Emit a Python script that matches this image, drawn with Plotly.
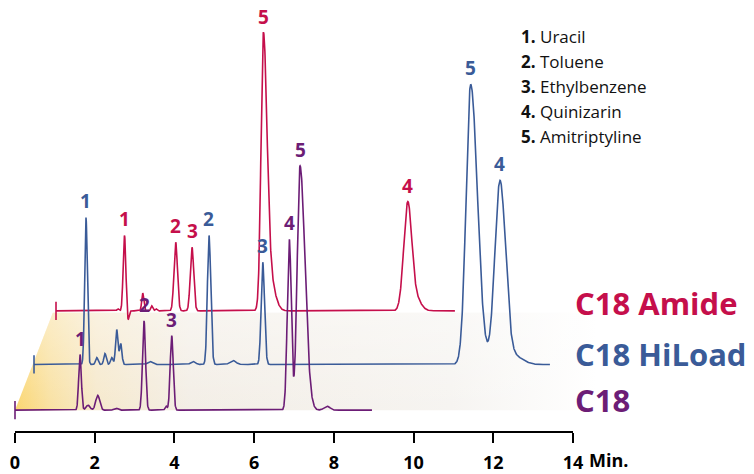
import numpy as np
import plotly.graph_objects as go

# peak tables
# rt = retention time in min from the start of that trace, height in plot units,
# sig_l / sig_r = left / right peak width (min), no = compound label
c18_rt = [1.631, 1.832, 2.075, 2.534, 3.237, 3.789, 3.932, 6.882, 7.151, 7.828]
c18_height = [56, 5, 15, 2, 90, 4, 75, 172, 246, 4]
c18_sig_l = [0.033, 0.05, 0.05, 0.05, 0.038, 0.025, 0.038, 0.05, 0.07, 0.075]
c18_sig_r = [0.033, 0.05, 0.05, 0.05, 0.038, 0.025, 0.038, 0.05, 0.125, 0.075]
c18_no = ['1', '', '', '', '2', '', '3', '4', '5', '']
c18_end = 8.96

hiload_rt = [1.304, 1.573, 1.781, 1.949, 2.075, 2.175, 2.910, 3.989, 4.390, 4.993, 5.738, 10.956, 11.691, 12.068]
hiload_height = [148, 7, 11, 7, 35, 21, 3, 3, 130, 4, 103, 282, 184, 8]
hiload_sig_l = [0.033, 0.03, 0.03, 0.03, 0.03, 0.03, 0.06, 0.06, 0.04, 0.075, 0.04, 0.115, 0.13, 0.2]
hiload_sig_r = [0.033, 0.03, 0.03, 0.03, 0.03, 0.03, 0.06, 0.06, 0.045, 0.075, 0.045, 0.17, 0.14, 0.2]
hiload_no = ['1', '', '', '', '', '', '', '', '2', '', '3', '5', '4', '']
hiload_end = 12.946

amide_rt = [1.555, 1.718, 1.806, 2.175, 2.401, 2.509, 3.003, 3.412, 5.201, 5.369, 8.824, 9.032]
amide_height = [2, 76, -10, 18, 5, 2, 69, 64, 268, 30, 107, 12]
amide_sig_l = [0.025, 0.033, 0.025, 0.025, 0.025, 0.025, 0.043, 0.043, 0.058, 0.125, 0.1, 0.125]
amide_sig_r = [0.025, 0.033, 0.025, 0.025, 0.025, 0.025, 0.043, 0.043, 0.09, 0.125, 0.1, 0.125]
amide_no = ['', '1', '', '', '', '', '2', '3', '5', '', '4', '']
amide_end = 10.011

compounds = ['Uracil', 'Toluene', 'Ethylbenzene', 'Quinizarin', 'Amitriptyline']
x_ticks = [0, 2, 4, 6, 8, 10, 12, 14]

RED = '#C50F4B'
BLUE = '#3A5B98'
PURPLE = '#6C1D76'
FONT = 'Open Sans'


def signal(t, rt, h, sl, sr):
    y = np.zeros_like(t)
    for t0, a, s1, s2 in zip(rt, h, sl, sr):
        s = np.where(t < t0, s1, s2)
        y += a * np.exp(-0.5 * ((t - t0) / s) ** 2)
    return y


fig = go.Figure()

# shaded floor under the stacked traces
fig.add_trace(go.Scatter(
    x=[0, 0.95, 14.6, 14.6, 0], y=[0, 98, 98, 0, 0],
    fill='toself', mode='none', hoverinfo='skip',
    fillgradient=dict(type='horizontal', colorscale=[
        [0, '#FBD670'], [0.06, '#F9E1A2'], [0.14, '#F6E9CC'], [0.3, '#F3EEE6'],
        [0.75, '#F6F4F1'], [1, '#FFFFFF']])
))
fig.add_trace(go.Scatter(
    x=[0, 0.95, 14.6, 14.6, 0], y=[0, 98, 98, 0, 0],
    fill='toself', mode='none', hoverinfo='skip',
    fillgradient=dict(type='vertical', colorscale=[
        [0, 'rgba(255,255,255,0)'], [1, 'rgba(255,255,255,0.4)']])
))

# (name, rt, height, sig_l, sig_r, labels, end, x offset, y offset, colour)
runs = [
    ('C18 Amide', amide_rt, amide_height, amide_sig_l, amide_sig_r, amide_no, amide_end, 1.029, 100, RED),
    ('C18 HiLoad', hiload_rt, hiload_height, hiload_sig_l, hiload_sig_r, hiload_no, hiload_end, 0.477, 46, BLUE),
    ('C18', c18_rt, c18_height, c18_sig_l, c18_sig_r, c18_no, c18_end, 0.0, 0, PURPLE),
]

annotations = []
for name, rt, h, sl, sr, nos, end, xoff, yoff, col in runs:
    t = np.arange(0, end, 0.004)
    y = signal(t, rt, h, sl, sr)
    fig.add_trace(go.Scatter(x=t + xoff, y=y + yoff, mode='lines',
                             line=dict(color=col, width=1.6), name=name, hoverinfo='skip'))
    # start mark of each run
    fig.add_trace(go.Scatter(x=[xoff], y=[yoff], mode='markers',
                             marker=dict(symbol='line-ns', size=13, line=dict(color=col, width=1.6)),
                             hoverinfo='skip'))
    for t0, no in zip(rt, nos):
        if not no:
            continue
        top = signal(np.array([t0]), rt, h, sl, sr)[0]
        annotations.append(dict(x=t0 + xoff, y=top + yoff, text=no, showarrow=False,
                                yanchor='bottom', yshift=1,
                                font=dict(family=FONT, size=19, color=col, weight='bold')))

# column names on the right
for name, col, ypos in [('C18 Amide', RED, 108), ('C18 HiLoad', BLUE, 57), ('C18', PURPLE, 10)]:
    annotations.append(dict(x=573 / 754, xref='paper', y=ypos, yref='y', text=name,
                            showarrow=False, xanchor='left', yanchor='middle',
                            font=dict(family=FONT, size=31, color=col, weight='bold')))

# compound list
for i, c in enumerate(compounds):
    annotations.append(dict(x=519 / 754, xref='paper', y=376 - 25 * i, yref='y',
                            text=f'<b>{i + 1}.</b> {c}', showarrow=False,
                            xanchor='left', yanchor='middle',
                            font=dict(family=FONT, size=17, color='#111111')))

annotations.append(dict(x=14, xref='x', y=0, yref='paper', text='<b>Min.</b>', showarrow=False,
                        xanchor='left', yanchor='middle', xshift=14, yshift=-28,
                        font=dict(family=FONT, size=18, color='black')))

fig.update_layout(
    width=754, height=474,
    margin=dict(l=0, r=0, t=0, b=39),
    plot_bgcolor='white', paper_bgcolor='white',
    showlegend=False, hovermode=False,
    annotations=annotations,
    shapes=[dict(type='line', xref='x', yref='paper', x0=0, x1=14, y0=0, y1=0,
                 line=dict(color='black', width=2))],
    xaxis=dict(range=[-15 / 39.857, 739 / 39.857], tickvals=x_ticks,
               ticktext=[str(v) for v in x_ticks],
               ticks='outside', ticklen=10, tickwidth=2, tickcolor='black',
               ticklabelstandoff=4,
               showgrid=False, zeroline=False, showline=False,
               tickfont=dict(family=FONT, size=18, color='black', weight='bold')),
    yaxis=dict(range=[-22, 413], visible=False),
)

# page body has a default 8px margin; drop it so the figure fills the window
fig.write_html("out.html", config={'displayModeBar': False},
               post_script="document.body.style.margin='0';")
